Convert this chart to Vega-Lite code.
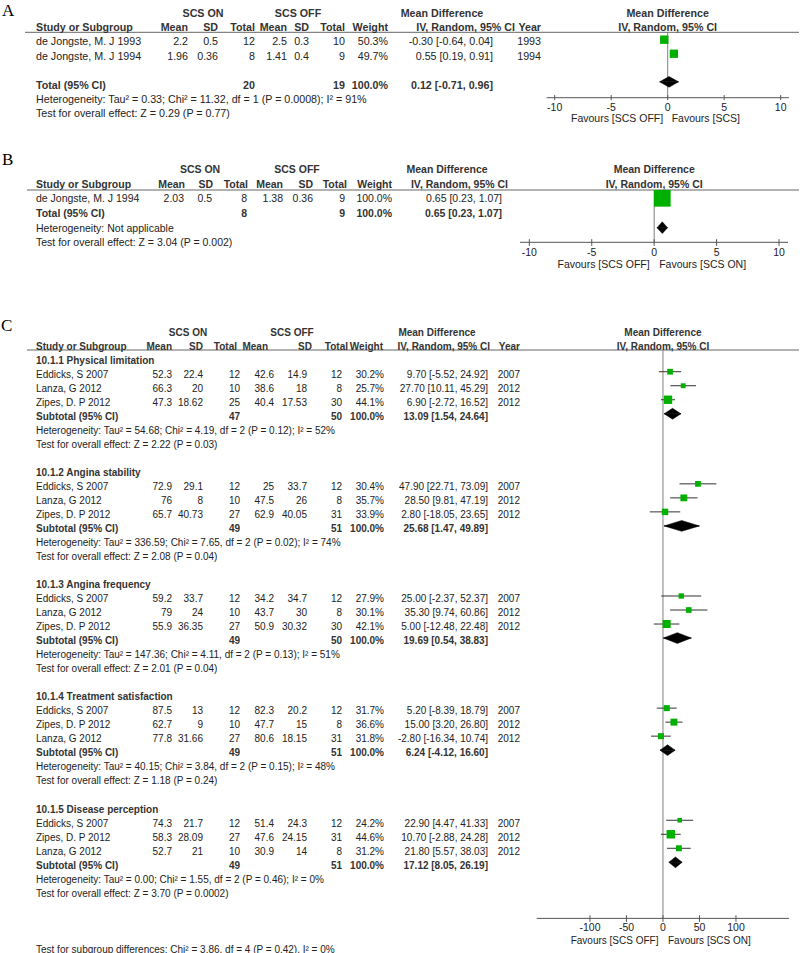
{
"$schema": "https://vega.github.io/schema/vega-lite/v6.json",
"padding": 0, "spacing": 0, "bounds": "flush", "background": "white",
"config": {"view": {"stroke": null}, "text": {"font": "Liberation Sans", "color": "#222"}},
"datasets": {
"cols": [{"key":"m1","c":1},{"key":"s1","c":2},{"key":"n1","c":3},{"key":"m2","c":4},{"key":"s2","c":5},{"key":"n2","c":6},{"key":"w","c":7},{"key":"ci","c":8},{"key":"yr","c":9},{"key":"on","c":10},{"key":"off","c":11},{"key":"md","c":12},{"key":"mh1","c":13},{"key":"sh1","c":14},{"key":"nh1","c":15},{"key":"mh2","c":16},{"key":"sh2","c":17},{"key":"nh2","c":18},{"key":"wh","c":19},{"key":"cih","c":20},{"key":"yrh","c":21}],
"dia": [{"k":"lo","up":0,"dn":0},{"k":"est","up":-1,"dn":1},{"k":"hi","up":0,"dn":0}],
"tA": [{"v":-10,"t":"-10"},{"v":-5,"t":"-5"},{"v":0,"t":"0"},{"v":5,"t":"5"},{"v":10,"t":"10"}],
"tC": [{"v":-100,"t":"-100"},{"v":-50,"t":"-50"},{"v":0,"t":"0"},{"v":50,"t":"50"},{"v":100,"t":"100"}],
"A": [
{"kind":"lab","label":"A","fl":"Favours [SCS OFF]","fr":"Favours [SCS]"},
{"kind":"h1","r":-2,"on":"SCS ON","off":"SCS OFF","md":"Mean Difference","fh":"Mean Difference"},
{"kind":"h2","r":-1,"label":"Study or Subgroup","mh1":"Mean","sh1":"SD","nh1":"Total","mh2":"Mean","sh2":"SD","nh2":"Total","wh":"Weight","cih":"IV, Random, 95% CI","yrh":"Year","fh":"IV, Random, 95% CI"},
{"kind":"study","r":0,"label":"de Jongste, M. J 1993","m1":"2.2","s1":"0.5","n1":"12","m2":"2.5","s2":"0.3","n2":"10","w":"50.3%","ci":"-0.30 [-0.64, 0.04]","yr":"1993","est":-0.30,"lo":-0.64,"hi":0.04,"wt":50.3},
{"kind":"study","r":1,"label":"de Jongste, M. J 1994","m1":"1.96","s1":"0.36","n1":"8","m2":"1.41","s2":"0.4","n2":"9","w":"49.7%","ci":"0.55 [0.19, 0.91]","yr":"1994","est":0.55,"lo":0.19,"hi":0.91,"wt":49.7},
{"kind":"sub","r":3,"label":"Total (95% CI)","n1":"20","n2":"19","w":"100.0%","ci":"0.12 [-0.71, 0.96]","est":0.12,"lo":-0.71,"hi":0.96},
{"kind":"het","r":4,"label":"Heterogeneity: Tau² = 0.33; Chi² = 11.32, df = 1 (P = 0.0008); I² = 91%"},
{"kind":"test","r":5,"label":"Test for overall effect: Z = 0.29 (P = 0.77)"}
],
"B": [
{"kind":"lab","label":"B","fl":"Favours [SCS OFF]","fr":"Favours [SCS ON]"},
{"kind":"h1","r":-2,"on":"SCS ON","off":"SCS OFF","md":"Mean Difference","fh":"Mean Difference"},
{"kind":"h2","r":-1,"label":"Study or Subgroup","mh1":"Mean","sh1":"SD","nh1":"Total","mh2":"Mean","sh2":"SD","nh2":"Total","wh":"Weight","cih":"IV, Random, 95% CI","fh":"IV, Random, 95% CI"},
{"kind":"study","r":0,"label":"de Jongste, M. J 1994","m1":"2.03","s1":"0.5","n1":"8","m2":"1.38","s2":"0.36","n2":"9","w":"100.0%","ci":"0.65 [0.23, 1.07]","est":0.65,"lo":0.23,"hi":1.07,"wt":100},
{"kind":"sub","r":1,"label":"Total (95% CI)","n1":"8","n2":"9","w":"100.0%","ci":"0.65 [0.23, 1.07]","est":0.65,"lo":0.23,"hi":1.07},
{"kind":"het","r":2,"label":"Heterogeneity: Not applicable"},
{"kind":"test","r":3,"label":"Test for overall effect: Z = 3.04 (P = 0.002)"}
],
"C": [
{"kind":"lab","label":"C","fl":"Favours [SCS OFF]","fr":"Favours [SCS ON]"},
{"kind":"h1","r":-2,"on":"SCS ON","off":"SCS OFF","md":"Mean Difference","fh":"Mean Difference"},
{"kind":"h2","r":-1,"label":"Study or Subgroup","mh1":"Mean","sh1":"SD","nh1":"Total","mh2":"Mean","sh2":"SD","nh2":"Total","wh":"Weight","cih":"IV, Random, 95% CI","yrh":"Year","fh":"IV, Random, 95% CI"},
{"kind":"group","r":0,"label":"10.1.1 Physical limitation"},
{"kind":"study","r":1,"label":"Eddicks, S 2007","m1":"52.3","s1":"22.4","n1":"12","m2":"42.6","s2":"14.9","n2":"12","w":"30.2%","ci":"9.70 [-5.52, 24.92]","yr":"2007","est":9.70,"lo":-5.52,"hi":24.92,"wt":30.2},
{"kind":"study","r":2,"label":"Lanza, G 2012","m1":"66.3","s1":"20","n1":"10","m2":"38.6","s2":"18","n2":"8","w":"25.7%","ci":"27.70 [10.11, 45.29]","yr":"2012","est":27.70,"lo":10.11,"hi":45.29,"wt":25.7},
{"kind":"study","r":3,"label":"Zipes, D. P 2012","m1":"47.3","s1":"18.62","n1":"25","m2":"40.4","s2":"17.53","n2":"30","w":"44.1%","ci":"6.90 [-2.72, 16.52]","yr":"2012","est":6.90,"lo":-2.72,"hi":16.52,"wt":44.1},
{"kind":"sub","r":4,"label":"Subtotal (95% CI)","n1":"47","n2":"50","w":"100.0%","ci":"13.09 [1.54, 24.64]","est":13.09,"lo":1.54,"hi":24.64},
{"kind":"het","r":5,"label":"Heterogeneity: Tau² = 54.68; Chi² = 4.19, df = 2 (P = 0.12); I² = 52%"},
{"kind":"test","r":6,"label":"Test for overall effect: Z = 2.22 (P = 0.03)"},
{"kind":"group","r":8,"label":"10.1.2 Angina stability"},
{"kind":"study","r":9,"label":"Eddicks, S 2007","m1":"72.9","s1":"29.1","n1":"12","m2":"25","s2":"33.7","n2":"12","w":"30.4%","ci":"47.90 [22.71, 73.09]","yr":"2007","est":47.90,"lo":22.71,"hi":73.09,"wt":30.4},
{"kind":"study","r":10,"label":"Lanza, G 2012","m1":"76","s1":"8","n1":"10","m2":"47.5","s2":"26","n2":"8","w":"35.7%","ci":"28.50 [9.81, 47.19]","yr":"2012","est":28.50,"lo":9.81,"hi":47.19,"wt":35.7},
{"kind":"study","r":11,"label":"Zipes, D. P 2012","m1":"65.7","s1":"40.73","n1":"27","m2":"62.9","s2":"40.05","n2":"31","w":"33.9%","ci":"2.80 [-18.05, 23.65]","yr":"2012","est":2.80,"lo":-18.05,"hi":23.65,"wt":33.9},
{"kind":"sub","r":12,"label":"Subtotal (95% CI)","n1":"49","n2":"51","w":"100.0%","ci":"25.68 [1.47, 49.89]","est":25.68,"lo":1.47,"hi":49.89},
{"kind":"het","r":13,"label":"Heterogeneity: Tau² = 336.59; Chi² = 7.65, df = 2 (P = 0.02); I² = 74%"},
{"kind":"test","r":14,"label":"Test for overall effect: Z = 2.08 (P = 0.04)"},
{"kind":"group","r":16,"label":"10.1.3 Angina frequency"},
{"kind":"study","r":17,"label":"Eddicks, S 2007","m1":"59.2","s1":"33.7","n1":"12","m2":"34.2","s2":"34.7","n2":"12","w":"27.9%","ci":"25.00 [-2.37, 52.37]","yr":"2007","est":25.00,"lo":-2.37,"hi":52.37,"wt":27.9},
{"kind":"study","r":18,"label":"Lanza, G 2012","m1":"79","s1":"24","n1":"10","m2":"43.7","s2":"30","n2":"8","w":"30.1%","ci":"35.30 [9.74, 60.86]","yr":"2012","est":35.30,"lo":9.74,"hi":60.86,"wt":30.1},
{"kind":"study","r":19,"label":"Zipes, D. P 2012","m1":"55.9","s1":"36.35","n1":"27","m2":"50.9","s2":"30.32","n2":"30","w":"42.1%","ci":"5.00 [-12.48, 22.48]","yr":"2012","est":5.00,"lo":-12.48,"hi":22.48,"wt":42.1},
{"kind":"sub","r":20,"label":"Subtotal (95% CI)","n1":"49","n2":"50","w":"100.0%","ci":"19.69 [0.54, 38.83]","est":19.69,"lo":0.54,"hi":38.83},
{"kind":"het","r":21,"label":"Heterogeneity: Tau² = 147.36; Chi² = 4.11, df = 2 (P = 0.13); I² = 51%"},
{"kind":"test","r":22,"label":"Test for overall effect: Z = 2.01 (P = 0.04)"},
{"kind":"group","r":24,"label":"10.1.4 Treatment satisfaction"},
{"kind":"study","r":25,"label":"Eddicks, S 2007","m1":"87.5","s1":"13","n1":"12","m2":"82.3","s2":"20.2","n2":"12","w":"31.7%","ci":"5.20 [-8.39, 18.79]","yr":"2007","est":5.20,"lo":-8.39,"hi":18.79,"wt":31.7},
{"kind":"study","r":26,"label":"Zipes, D. P 2012","m1":"62.7","s1":"9","n1":"10","m2":"47.7","s2":"15","n2":"8","w":"36.6%","ci":"15.00 [3.20, 26.80]","yr":"2012","est":15.00,"lo":3.20,"hi":26.80,"wt":36.6},
{"kind":"study","r":27,"label":"Lanza, G 2012","m1":"77.8","s1":"31.66","n1":"27","m2":"80.6","s2":"18.15","n2":"31","w":"31.8%","ci":"-2.80 [-16.34, 10.74]","yr":"2012","est":-2.80,"lo":-16.34,"hi":10.74,"wt":31.8},
{"kind":"sub","r":28,"label":"Subtotal (95% CI)","n1":"49","n2":"51","w":"100.0%","ci":"6.24 [-4.12, 16.60]","est":6.24,"lo":-4.12,"hi":16.60},
{"kind":"het","r":29,"label":"Heterogeneity: Tau² = 40.15; Chi² = 3.84, df = 2 (P = 0.15); I² = 48%"},
{"kind":"test","r":30,"label":"Test for overall effect: Z = 1.18 (P = 0.24)"},
{"kind":"group","r":32,"label":"10.1.5 Disease perception"},
{"kind":"study","r":33,"label":"Eddicks, S 2007","m1":"74.3","s1":"21.7","n1":"12","m2":"51.4","s2":"24.3","n2":"12","w":"24.2%","ci":"22.90 [4.47, 41.33]","yr":"2007","est":22.90,"lo":4.47,"hi":41.33,"wt":24.2},
{"kind":"study","r":34,"label":"Zipes, D. P 2012","m1":"58.3","s1":"28.09","n1":"27","m2":"47.6","s2":"24.15","n2":"31","w":"44.6%","ci":"10.70 [-2.88, 24.28]","yr":"2012","est":10.70,"lo":-2.88,"hi":24.28,"wt":44.6},
{"kind":"study","r":35,"label":"Lanza, G 2012","m1":"52.7","s1":"21","n1":"10","m2":"30.9","s2":"14","n2":"8","w":"31.2%","ci":"21.80 [5.57, 38.03]","yr":"2012","est":21.80,"lo":5.57,"hi":38.03,"wt":31.2},
{"kind":"sub","r":36,"label":"Subtotal (95% CI)","n1":"49","n2":"51","w":"100.0%","ci":"17.12 [8.05, 26.19]","est":17.12,"lo":8.05,"hi":26.19},
{"kind":"het","r":37,"label":"Heterogeneity: Tau² = 0.00; Chi² = 1.55, df = 2 (P = 0.46); I² = 0%"},
{"kind":"test","r":38,"label":"Test for overall effect: Z = 3.70 (P = 0.0002)"},
{"kind":"test","r":42,"label":"Test for subgroup differences: Chi² = 3.86, df = 4 (P = 0.42), I² = 0%"}
]
},
"vconcat": [
{"width": 800, "height": 135,
 "resolve": {"scale": {"x": "independent", "y": "independent", "size": "independent", "yOffset": "independent"}},
 "layer": [
  {"data":{"name":"A"},"transform":[{"filter":"datum.kind==='lab'"}],"mark":{"type":"text","font":"Liberation Serif","fontSize":17,"align":"left","baseline":"middle","color":"#000"},
   "encoding":{"x":{"datum":-2,"type":"quantitative","scale":{"domain":[-2,-1,0,1,2,3,4,5,6,7,8,9,10,11,12,13,14,15,16,17,18,19,20,21,22],"range":[2,25,36,188,218,255,287,309,345,388,493,541,203,298,442,188,218,255,287,309,345,388,515,541,799],"nice":false,"zero":false},"axis":null},
   "y":{"datum":-2.17,"type":"quantitative","scale":{"domain":[-2.9375,6.4375],"reverse":true,"nice":false,"zero":false},"axis":null},"text":{"field":"label"}}},
  {"data":{"name":"A"},"transform":[{"filter":"datum.kind==='lab'"}],"mark":{"type":"rule","color":"#666","strokeWidth":1},
   "encoding":{"x":{"datum":-1,"type":"quantitative","scale":{"domain":[-2,-1,0,1,2,3,4,5,6,7,8,9,10,11,12,13,14,15,16,17,18,19,20,21,22],"range":[2,25,36,188,218,255,287,309,345,388,493,541,203,298,442,188,218,255,287,309,345,388,515,541,799],"nice":false,"zero":false},"axis":null},"x2":{"datum":22},
   "y":{"datum":-0.694,"type":"quantitative","scale":{"domain":[-2.9375,6.4375],"reverse":true,"nice":false,"zero":false},"axis":null}}},
  {"data":{"name":"A"},"transform":[{"filter":"datum.kind==='lab'"}],"mark":{"type":"rule","color":"#808080","strokeWidth":1},
   "encoding":{"x":{"datum":0,"type":"quantitative","scale":{"domain":[-59.09,11.71],"nice":false,"zero":false},"axis":null},
   "y":{"datum":-0.527,"type":"quantitative","scale":{"domain":[-2.826,6.783],"reverse":true,"nice":false,"zero":false},"axis":null},"y2":{"datum":4.128}}},
  {"data":{"name":"A"},"transform":[{"filter":"datum.kind==='lab'"}],"mark":{"type":"rule","color":"#555","strokeWidth":1},
   "encoding":{"x":{"datum":-10.71,"type":"quantitative","scale":{"domain":[-59.09,11.71],"nice":false,"zero":false},"axis":null},"x2":{"datum":10.73},
   "y":{"datum":4.128,"type":"quantitative","scale":{"domain":[-2.826,6.783],"reverse":true,"nice":false,"zero":false},"axis":null}}},
  {"data":{"name":"tA"},"mark":{"type":"rule","color":"#555","strokeWidth":1},
   "encoding":{"x":{"field":"v","type":"quantitative","scale":{"domain":[-59.09,11.71],"nice":false,"zero":false},"axis":null},
   "y":{"datum":3.94,"type":"quantitative","scale":{"domain":[-2.826,6.783],"reverse":true,"nice":false,"zero":false},"axis":null},"y2":{"datum":4.30}}},
  {"data":{"name":"tA"},"mark":{"type":"text","fontSize":10.5,"align":"center","baseline":"middle"},
   "encoding":{"x":{"field":"v","type":"quantitative","scale":{"domain":[-59.09,11.71],"nice":false,"zero":false},"axis":null},
   "y":{"datum":4.85,"type":"quantitative","scale":{"domain":[-2.826,6.783],"reverse":true,"nice":false,"zero":false},"axis":null},"text":{"field":"t"}}},
  {"data":{"name":"A"},"transform":[{"filter":"datum.kind==='lab'"}],"mark":{"type":"text","fontSize":10.5,"align":"right","baseline":"middle","dx":-4.5},
   "encoding":{"x":{"datum":0,"type":"quantitative","scale":{"domain":[-59.09,11.71],"nice":false,"zero":false},"axis":null},
   "y":{"datum":5.63,"type":"quantitative","scale":{"domain":[-2.826,6.783],"reverse":true,"nice":false,"zero":false},"axis":null},"text":{"field":"fl"}}},
  {"data":{"name":"A"},"transform":[{"filter":"datum.kind==='lab'"}],"mark":{"type":"text","fontSize":10.5,"align":"left","baseline":"middle","dx":4},
   "encoding":{"x":{"datum":0,"type":"quantitative","scale":{"domain":[-59.09,11.71],"nice":false,"zero":false},"axis":null},
   "y":{"datum":5.63,"type":"quantitative","scale":{"domain":[-2.826,6.783],"reverse":true,"nice":false,"zero":false},"axis":null},"text":{"field":"fr"}}},
  {"data":{"name":"A"},"transform":[{"filter":"datum.kind==='study'"}],"mark":{"type":"rule","color":"#333","strokeWidth":1},
   "encoding":{"x":{"field":"lo","type":"quantitative","scale":{"domain":[-59.09,11.71],"nice":false,"zero":false},"axis":null},"x2":{"field":"hi"},
   "y":{"field":"r","type":"quantitative","scale":{"domain":[-2.826,6.783],"reverse":true,"nice":false,"zero":false},"axis":null}}},
  {"data":{"name":"A"},"transform":[{"filter":"datum.kind==='study'"}],"mark":{"type":"point","shape":"square","filled":true,"color":"#00b000","opacity":1},
   "encoding":{"x":{"field":"est","type":"quantitative","scale":{"domain":[-59.09,11.71],"nice":false,"zero":false},"axis":null},
   "y":{"field":"r","type":"quantitative","scale":{"domain":[-2.826,6.783],"reverse":true,"nice":false,"zero":false},"axis":null},
   "size":{"field":"wt","type":"quantitative","scale":{"type":"pow","exponent":2,"domain":[0,100],"range":[0,279]},"legend":null}}},
  {"data":{"name":"A"},"transform":[{"filter":"datum.kind==='sub'"},{"fold":["lo","est","hi"],"as":["k","v"]},{"lookup":"k","from":{"data":{"name":"dia"},"key":"k","fields":["up","dn"]}}],
   "mark":{"type":"line","fill":"#000","stroke":"#000","strokeWidth":0.5,"interpolate":"linear-closed"},
   "encoding":{"x":{"field":"v","type":"quantitative","scale":{"domain":[-59.09,11.71],"nice":false,"zero":false},"axis":null},
   "y":{"field":"r","type":"ordinal","scale":{"type":"point","domain":[3],"range":[81.85,81.85],"padding":0},"axis":null},
   "yOffset":{"field":"up","type":"quantitative","scale":{"domain":[-1,1],"range":[-5.35,5.35]}},
   "order":{"field":"v"},"detail":{"field":"r"}}},
  {"data":{"name":"A"},"transform":[{"filter":"datum.kind==='sub'"},{"fold":["lo","est","hi"],"as":["k","v"]},{"lookup":"k","from":{"data":{"name":"dia"},"key":"k","fields":["up","dn"]}}],
   "mark":{"type":"line","fill":"#000","stroke":"#000","strokeWidth":0.5,"interpolate":"linear-closed"},
   "encoding":{"x":{"field":"v","type":"quantitative","scale":{"domain":[-59.09,11.71],"nice":false,"zero":false},"axis":null},
   "y":{"field":"r","type":"ordinal","scale":{"type":"point","domain":[3],"range":[81.85,81.85],"padding":0},"axis":null},
   "yOffset":{"field":"dn","type":"quantitative","scale":{"domain":[-1,1],"range":[-5.35,5.35]}},
   "order":{"field":"v"},"detail":{"field":"r"}}},
  {"data":{"name":"A"},"transform":[{"filter":"isValid(datum.fh)"}],"mark":{"type":"text","fontSize":10.7,"fontWeight":"bold","align":"center","baseline":"middle","color":"#333"},
   "encoding":{"x":{"datum":0,"type":"quantitative","scale":{"domain":[-59.09,11.71],"nice":false,"zero":false},"axis":null},
   "y":{"field":"r","type":"quantitative","scale":{"domain":[-2.9375,6.4375],"reverse":true,"nice":false,"zero":false},"axis":null},"text":{"field":"fh"}}},
  {"data":{"name":"A"},"transform":[{"filter":"datum.kind==='h1'"},{"fold":["on","off","md"],"as":["key","value"]},{"lookup":"key","from":{"data":{"name":"cols"},"key":"key","fields":["c"]}}],
   "mark":{"type":"text","fontSize":10.7,"fontWeight":"bold","align":"center","baseline":"middle","color":"#333"},
   "encoding":{"x":{"field":"c","type":"quantitative","scale":{"domain":[-2,-1,0,1,2,3,4,5,6,7,8,9,10,11,12,13,14,15,16,17,18,19,20,21,22],"range":[2,25,36,188,218,255,287,309,345,388,493,541,203,298,442,188,218,255,287,309,345,388,515,541,799],"nice":false,"zero":false},"axis":null},
   "y":{"field":"r","type":"quantitative","scale":{"domain":[-2.9375,6.4375],"reverse":true,"nice":false,"zero":false},"axis":null},"text":{"field":"value"}}},
  {"data":{"name":"A"},"transform":[{"filter":"indexof(['group','sub','h2'], datum.kind) >= 0"}],"mark":{"type":"text","fontSize":10.7,"fontWeight":"bold","align":"left","baseline":"middle","color":"#333"},
   "encoding":{"x":{"datum":0,"type":"quantitative","scale":{"domain":[-2,-1,0,1,2,3,4,5,6,7,8,9,10,11,12,13,14,15,16,17,18,19,20,21,22],"range":[2,25,36,188,218,255,287,309,345,388,493,541,203,298,442,188,218,255,287,309,345,388,515,541,799],"nice":false,"zero":false},"axis":null},
   "y":{"field":"r","type":"quantitative","scale":{"domain":[-2.9375,6.4375],"reverse":true,"nice":false,"zero":false},"axis":null},"text":{"field":"label"}}},
  {"data":{"name":"A"},"transform":[{"filter":"indexof(['study','het','test'], datum.kind) >= 0"}],"mark":{"type":"text","fontSize":10.7,"align":"left","baseline":"middle"},
   "encoding":{"x":{"datum":0,"type":"quantitative","scale":{"domain":[-2,-1,0,1,2,3,4,5,6,7,8,9,10,11,12,13,14,15,16,17,18,19,20,21,22],"range":[2,25,36,188,218,255,287,309,345,388,493,541,203,298,442,188,218,255,287,309,345,388,515,541,799],"nice":false,"zero":false},"axis":null},
   "y":{"field":"r","type":"quantitative","scale":{"domain":[-2.9375,6.4375],"reverse":true,"nice":false,"zero":false},"axis":null},"text":{"field":"label"}}},
  {"data":{"name":"A"},"transform":[{"filter":"datum.kind==='study'"},{"fold":["m1","s1","n1","m2","s2","n2","w","ci","yr"],"as":["key","value"]},{"filter":"isValid(datum.value)"},{"lookup":"key","from":{"data":{"name":"cols"},"key":"key","fields":["c"]}}],
   "mark":{"type":"text","fontSize":10.7,"align":"right","baseline":"middle"},
   "encoding":{"x":{"field":"c","type":"quantitative","scale":{"domain":[-2,-1,0,1,2,3,4,5,6,7,8,9,10,11,12,13,14,15,16,17,18,19,20,21,22],"range":[2,25,36,188,218,255,287,309,345,388,493,541,203,298,442,188,218,255,287,309,345,388,515,541,799],"nice":false,"zero":false},"axis":null},
   "y":{"field":"r","type":"quantitative","scale":{"domain":[-2.9375,6.4375],"reverse":true,"nice":false,"zero":false},"axis":null},"text":{"field":"value"}}},
  {"data":{"name":"A"},"transform":[{"filter":"datum.kind==='sub' || datum.kind==='h2'"},{"fold":["m1","s1","n1","m2","s2","n2","w","ci","yr","mh1","sh1","nh1","mh2","sh2","nh2","wh","cih","yrh"],"as":["key","value"]},{"filter":"isValid(datum.value)"},{"lookup":"key","from":{"data":{"name":"cols"},"key":"key","fields":["c"]}}],
   "mark":{"type":"text","fontSize":10.7,"fontWeight":"bold","align":"right","baseline":"middle","color":"#333"},
   "encoding":{"x":{"field":"c","type":"quantitative","scale":{"domain":[-2,-1,0,1,2,3,4,5,6,7,8,9,10,11,12,13,14,15,16,17,18,19,20,21,22],"range":[2,25,36,188,218,255,287,309,345,388,493,541,203,298,442,188,218,255,287,309,345,388,515,541,799],"nice":false,"zero":false},"axis":null},
   "y":{"field":"r","type":"quantitative","scale":{"domain":[-2.9375,6.4375],"reverse":true,"nice":false,"zero":false},"axis":null},"text":{"field":"value"}}}
 ]},
{"width": 800, "height": 165,
 "resolve": {"scale": {"x": "independent", "y": "independent", "size": "independent", "yOffset": "independent"}},
 "layer": [
  {"data":{"name":"B"},"transform":[{"filter":"datum.kind==='lab'"}],"mark":{"type":"text","font":"Liberation Serif","fontSize":17,"align":"left","baseline":"middle","color":"#000"},
   "encoding":{"x":{"datum":-2,"type":"quantitative","scale":{"domain":[-2,-1,0,1,2,3,4,5,6,7,8,9,10,11,12,13,14,15,16,17,18,19,20,21,22],"range":[2,27,36,184,212,247,283,313,345,392,502,541,200,297,447,185,213,248,283,313,347,392,508,541,799],"nice":false,"zero":false},"axis":null},
   "y":{"datum":-2.66,"type":"quantitative","scale":{"domain":[-4.386,6.869],"reverse":true,"nice":false,"zero":false},"axis":null},"text":{"field":"label"}}},
  {"data":{"name":"B"},"transform":[{"filter":"datum.kind==='lab'"}],"mark":{"type":"rule","color":"#666","strokeWidth":1},
   "encoding":{"x":{"datum":-1,"type":"quantitative","scale":{"domain":[-2,-1,0,1,2,3,4,5,6,7,8,9,10,11,12,13,14,15,16,17,18,19,20,21,22],"range":[2,27,36,184,212,247,283,313,345,392,502,541,200,297,447,185,213,248,283,313,347,392,508,541,799],"nice":false,"zero":false},"axis":null},"x2":{"datum":22},
   "y":{"datum":-0.634,"type":"quantitative","scale":{"domain":[-4.386,6.869],"reverse":true,"nice":false,"zero":false},"axis":null}}},
  {"data":{"name":"B"},"transform":[{"filter":"datum.kind==='lab'"}],"mark":{"type":"rule","color":"#808080","strokeWidth":1},
   "encoding":{"x":{"datum":0,"type":"quantitative","scale":{"domain":[-52.40,11.68],"nice":false,"zero":false},"axis":null},
   "y":{"datum":-0.282,"type":"quantitative","scale":{"domain":[-2.153,3.459],"reverse":true,"nice":false,"zero":false},"axis":null},"y2":{"datum":1.497}}},
  {"data":{"name":"B"},"transform":[{"filter":"datum.kind==='lab'"}],"mark":{"type":"rule","color":"#555","strokeWidth":1},
   "encoding":{"x":{"datum":-10.75,"type":"quantitative","scale":{"domain":[-52.40,11.68],"nice":false,"zero":false},"axis":null},"x2":{"datum":10.72},
   "y":{"datum":1.497,"type":"quantitative","scale":{"domain":[-2.153,3.459],"reverse":true,"nice":false,"zero":false},"axis":null}}},
  {"data":{"name":"tA"},"mark":{"type":"rule","color":"#555","strokeWidth":1},
   "encoding":{"x":{"field":"v","type":"quantitative","scale":{"domain":[-52.40,11.68],"nice":false,"zero":false},"axis":null},
   "y":{"datum":1.39,"type":"quantitative","scale":{"domain":[-2.153,3.459],"reverse":true,"nice":false,"zero":false},"axis":null},"y2":{"datum":1.62}}},
  {"data":{"name":"tA"},"mark":{"type":"text","fontSize":10.5,"align":"center","baseline":"middle"},
   "encoding":{"x":{"field":"v","type":"quantitative","scale":{"domain":[-52.40,11.68],"nice":false,"zero":false},"axis":null},
   "y":{"datum":1.871,"type":"quantitative","scale":{"domain":[-2.153,3.459],"reverse":true,"nice":false,"zero":false},"axis":null},"text":{"field":"t"}}},
  {"data":{"name":"B"},"transform":[{"filter":"datum.kind==='lab'"}],"mark":{"type":"text","fontSize":10.5,"align":"right","baseline":"middle","dx":-4.5},
   "encoding":{"x":{"datum":0,"type":"quantitative","scale":{"domain":[-52.40,11.68],"nice":false,"zero":false},"axis":null},
   "y":{"datum":2.27,"type":"quantitative","scale":{"domain":[-2.153,3.459],"reverse":true,"nice":false,"zero":false},"axis":null},"text":{"field":"fl"}}},
  {"data":{"name":"B"},"transform":[{"filter":"datum.kind==='lab'"}],"mark":{"type":"text","fontSize":10.5,"align":"left","baseline":"middle","dx":5},
   "encoding":{"x":{"datum":0,"type":"quantitative","scale":{"domain":[-52.40,11.68],"nice":false,"zero":false},"axis":null},
   "y":{"datum":2.27,"type":"quantitative","scale":{"domain":[-2.153,3.459],"reverse":true,"nice":false,"zero":false},"axis":null},"text":{"field":"fr"}}},
  {"data":{"name":"B"},"transform":[{"filter":"datum.kind==='study'"}],"mark":{"type":"rule","color":"#333","strokeWidth":1},
   "encoding":{"x":{"field":"lo","type":"quantitative","scale":{"domain":[-52.40,11.68],"nice":false,"zero":false},"axis":null},"x2":{"field":"hi"},
   "y":{"field":"r","type":"quantitative","scale":{"domain":[-2.153,3.459],"reverse":true,"nice":false,"zero":false},"axis":null}}},
  {"data":{"name":"B"},"transform":[{"filter":"datum.kind==='study'"}],"mark":{"type":"point","shape":"square","filled":true,"color":"#00b000","opacity":1},
   "encoding":{"x":{"field":"est","type":"quantitative","scale":{"domain":[-52.40,11.68],"nice":false,"zero":false},"axis":null},
   "y":{"field":"r","type":"quantitative","scale":{"domain":[-2.153,3.459],"reverse":true,"nice":false,"zero":false},"axis":null},
   "size":{"field":"wt","type":"quantitative","scale":{"type":"pow","exponent":2,"domain":[0,100],"range":[0,279]},"legend":null}}},
  {"data":{"name":"B"},"transform":[{"filter":"datum.kind==='sub'"},{"fold":["lo","est","hi"],"as":["k","v"]},{"lookup":"k","from":{"data":{"name":"dia"},"key":"k","fields":["up","dn"]}}],
   "mark":{"type":"line","fill":"#000","stroke":"#000","strokeWidth":0.5,"interpolate":"linear-closed"},
   "encoding":{"x":{"field":"v","type":"quantitative","scale":{"domain":[-52.40,11.68],"nice":false,"zero":false},"axis":null},
   "y":{"field":"r","type":"ordinal","scale":{"type":"point","domain":[1],"range":[92.7,92.7],"padding":0},"axis":null},
   "yOffset":{"field":"up","type":"quantitative","scale":{"domain":[-1,1],"range":[-5.85,5.85]}},
   "order":{"field":"v"},"detail":{"field":"r"}}},
  {"data":{"name":"B"},"transform":[{"filter":"datum.kind==='sub'"},{"fold":["lo","est","hi"],"as":["k","v"]},{"lookup":"k","from":{"data":{"name":"dia"},"key":"k","fields":["up","dn"]}}],
   "mark":{"type":"line","fill":"#000","stroke":"#000","strokeWidth":0.5,"interpolate":"linear-closed"},
   "encoding":{"x":{"field":"v","type":"quantitative","scale":{"domain":[-52.40,11.68],"nice":false,"zero":false},"axis":null},
   "y":{"field":"r","type":"ordinal","scale":{"type":"point","domain":[1],"range":[92.7,92.7],"padding":0},"axis":null},
   "yOffset":{"field":"dn","type":"quantitative","scale":{"domain":[-1,1],"range":[-5.85,5.85]}},
   "order":{"field":"v"},"detail":{"field":"r"}}},
  {"data":{"name":"B"},"transform":[{"filter":"isValid(datum.fh)"}],"mark":{"type":"text","fontSize":10.5,"fontWeight":"bold","align":"center","baseline":"middle","color":"#333"},
   "encoding":{"x":{"datum":0,"type":"quantitative","scale":{"domain":[-52.40,11.68],"nice":false,"zero":false},"axis":null},
   "y":{"field":"r","type":"quantitative","scale":{"domain":[-4.386,6.869],"reverse":true,"nice":false,"zero":false},"axis":null},"text":{"field":"fh"}}},
  {"data":{"name":"B"},"transform":[{"filter":"datum.kind==='h1'"},{"fold":["on","off","md"],"as":["key","value"]},{"lookup":"key","from":{"data":{"name":"cols"},"key":"key","fields":["c"]}}],
   "mark":{"type":"text","fontSize":10.5,"fontWeight":"bold","align":"center","baseline":"middle","color":"#333"},
   "encoding":{"x":{"field":"c","type":"quantitative","scale":{"domain":[-2,-1,0,1,2,3,4,5,6,7,8,9,10,11,12,13,14,15,16,17,18,19,20,21,22],"range":[2,27,36,184,212,247,283,313,345,392,502,541,200,297,447,185,213,248,283,313,347,392,508,541,799],"nice":false,"zero":false},"axis":null},
   "y":{"field":"r","type":"quantitative","scale":{"domain":[-4.386,6.869],"reverse":true,"nice":false,"zero":false},"axis":null},"text":{"field":"value"}}},
  {"data":{"name":"B"},"transform":[{"filter":"indexof(['group','sub','h2'], datum.kind) >= 0"}],"mark":{"type":"text","fontSize":10.5,"fontWeight":"bold","align":"left","baseline":"middle","color":"#333"},
   "encoding":{"x":{"datum":0,"type":"quantitative","scale":{"domain":[-2,-1,0,1,2,3,4,5,6,7,8,9,10,11,12,13,14,15,16,17,18,19,20,21,22],"range":[2,27,36,184,212,247,283,313,345,392,502,541,200,297,447,185,213,248,283,313,347,392,508,541,799],"nice":false,"zero":false},"axis":null},
   "y":{"field":"r","type":"quantitative","scale":{"domain":[-4.386,6.869],"reverse":true,"nice":false,"zero":false},"axis":null},"text":{"field":"label"}}},
  {"data":{"name":"B"},"transform":[{"filter":"indexof(['study','het','test'], datum.kind) >= 0"}],"mark":{"type":"text","fontSize":10.5,"align":"left","baseline":"middle"},
   "encoding":{"x":{"datum":0,"type":"quantitative","scale":{"domain":[-2,-1,0,1,2,3,4,5,6,7,8,9,10,11,12,13,14,15,16,17,18,19,20,21,22],"range":[2,27,36,184,212,247,283,313,345,392,502,541,200,297,447,185,213,248,283,313,347,392,508,541,799],"nice":false,"zero":false},"axis":null},
   "y":{"field":"r","type":"quantitative","scale":{"domain":[-4.386,6.869],"reverse":true,"nice":false,"zero":false},"axis":null},"text":{"field":"label"}}},
  {"data":{"name":"B"},"transform":[{"filter":"datum.kind==='study'"},{"fold":["m1","s1","n1","m2","s2","n2","w","ci","yr"],"as":["key","value"]},{"filter":"isValid(datum.value)"},{"lookup":"key","from":{"data":{"name":"cols"},"key":"key","fields":["c"]}}],
   "mark":{"type":"text","fontSize":10.5,"align":"right","baseline":"middle"},
   "encoding":{"x":{"field":"c","type":"quantitative","scale":{"domain":[-2,-1,0,1,2,3,4,5,6,7,8,9,10,11,12,13,14,15,16,17,18,19,20,21,22],"range":[2,27,36,184,212,247,283,313,345,392,502,541,200,297,447,185,213,248,283,313,347,392,508,541,799],"nice":false,"zero":false},"axis":null},
   "y":{"field":"r","type":"quantitative","scale":{"domain":[-4.386,6.869],"reverse":true,"nice":false,"zero":false},"axis":null},"text":{"field":"value"}}},
  {"data":{"name":"B"},"transform":[{"filter":"datum.kind==='sub' || datum.kind==='h2'"},{"fold":["m1","s1","n1","m2","s2","n2","w","ci","yr","mh1","sh1","nh1","mh2","sh2","nh2","wh","cih","yrh"],"as":["key","value"]},{"filter":"isValid(datum.value)"},{"lookup":"key","from":{"data":{"name":"cols"},"key":"key","fields":["c"]}}],
   "mark":{"type":"text","fontSize":10.5,"fontWeight":"bold","align":"right","baseline":"middle","color":"#333"},
   "encoding":{"x":{"field":"c","type":"quantitative","scale":{"domain":[-2,-1,0,1,2,3,4,5,6,7,8,9,10,11,12,13,14,15,16,17,18,19,20,21,22],"range":[2,27,36,184,212,247,283,313,345,392,502,541,200,297,447,185,213,248,283,313,347,392,508,541,799],"nice":false,"zero":false},"axis":null},
   "y":{"field":"r","type":"quantitative","scale":{"domain":[-4.386,6.869],"reverse":true,"nice":false,"zero":false},"axis":null},"text":{"field":"value"}}}
 ]},
{"width": 800, "height": 653,
 "resolve": {"scale": {"x": "independent", "y": "independent", "size": "independent", "yOffset": "independent"}},
 "layer": [
  {"data":{"name":"C"},"transform":[{"filter":"datum.kind==='lab'"}],"mark":{"type":"text","font":"Liberation Serif","fontSize":17,"align":"left","baseline":"middle","color":"#000"},
   "encoding":{"x":{"datum":-2,"type":"quantitative","scale":{"domain":[-2,-1,0,1,2,3,4,5,6,7,8,9,10,11,12,13,14,15,16,17,18,19,20,21,22],"range":[1,27,36,172,203,240,274,307,342,384,488,520,188,292,437,172,203,237,268,312,348,383,490,520,799],"nice":false,"zero":false},"axis":null},
   "y":{"datum":-2.49,"type":"quantitative","scale":{"domain":[-4.328,42.229],"reverse":true,"nice":false,"zero":false},"axis":null},"text":{"field":"label"}}},
  {"data":{"name":"C"},"transform":[{"filter":"datum.kind==='lab'"}],"mark":{"type":"rule","color":"#666","strokeWidth":1},
   "encoding":{"x":{"datum":-1,"type":"quantitative","scale":{"domain":[-2,-1,0,1,2,3,4,5,6,7,8,9,10,11,12,13,14,15,16,17,18,19,20,21,22],"range":[1,27,36,172,203,240,274,307,342,384,488,520,188,292,437,172,203,237,268,312,348,383,490,520,799],"nice":false,"zero":false},"axis":null},"x2":{"datum":22},
   "y":{"datum":-0.763,"type":"quantitative","scale":{"domain":[-4.328,42.229],"reverse":true,"nice":false,"zero":false},"axis":null}}},
  {"data":{"name":"C"},"transform":[{"filter":"datum.kind==='lab'"}],"mark":{"type":"rule","color":"#808080","strokeWidth":1},
   "encoding":{"x":{"datum":0,"type":"quantitative","scale":{"domain":[-908.2,187.7],"nice":false,"zero":false},"axis":null},
   "y":{"datum":-0.549,"type":"quantitative","scale":{"domain":[-4.116,42.47],"reverse":true,"nice":false,"zero":false},"axis":null},"y2":{"datum":40.0}}},
  {"data":{"name":"C"},"transform":[{"filter":"datum.kind==='lab'"}],"mark":{"type":"rule","color":"#555","strokeWidth":1},
   "encoding":{"x":{"datum":-173,"type":"quantitative","scale":{"domain":[-908.2,187.7],"nice":false,"zero":false},"axis":null},"x2":{"datum":172.6},
   "y":{"datum":40.0,"type":"quantitative","scale":{"domain":[-4.116,42.47],"reverse":true,"nice":false,"zero":false},"axis":null}}},
  {"data":{"name":"tC"},"mark":{"type":"rule","color":"#555","strokeWidth":1},
   "encoding":{"x":{"field":"v","type":"quantitative","scale":{"domain":[-908.2,187.7],"nice":false,"zero":false},"axis":null},
   "y":{"datum":39.78,"type":"quantitative","scale":{"domain":[-4.116,42.47],"reverse":true,"nice":false,"zero":false},"axis":null},"y2":{"datum":40.25}}},
  {"data":{"name":"tC"},"mark":{"type":"text","fontSize":10.5,"align":"center","baseline":"middle"},
   "encoding":{"x":{"field":"v","type":"quantitative","scale":{"domain":[-908.2,187.7],"nice":false,"zero":false},"axis":null},
   "y":{"datum":40.69,"type":"quantitative","scale":{"domain":[-4.116,42.47],"reverse":true,"nice":false,"zero":false},"axis":null},"text":{"field":"t"}}},
  {"data":{"name":"C"},"transform":[{"filter":"datum.kind==='lab'"}],"mark":{"type":"text","fontSize":10,"align":"right","baseline":"middle","dx":-4.5},
   "encoding":{"x":{"datum":0,"type":"quantitative","scale":{"domain":[-908.2,187.7],"nice":false,"zero":false},"axis":null},
   "y":{"datum":41.59,"type":"quantitative","scale":{"domain":[-4.116,42.47],"reverse":true,"nice":false,"zero":false},"axis":null},"text":{"field":"fl"}}},
  {"data":{"name":"C"},"transform":[{"filter":"datum.kind==='lab'"}],"mark":{"type":"text","fontSize":10,"align":"left","baseline":"middle","dx":5},
   "encoding":{"x":{"datum":0,"type":"quantitative","scale":{"domain":[-908.2,187.7],"nice":false,"zero":false},"axis":null},
   "y":{"datum":41.59,"type":"quantitative","scale":{"domain":[-4.116,42.47],"reverse":true,"nice":false,"zero":false},"axis":null},"text":{"field":"fr"}}},
  {"data":{"name":"C"},"transform":[{"filter":"datum.kind==='study'"}],"mark":{"type":"rule","color":"#333","strokeWidth":1},
   "encoding":{"x":{"field":"lo","type":"quantitative","scale":{"domain":[-908.2,187.7],"nice":false,"zero":false},"axis":null},"x2":{"field":"hi"},
   "y":{"field":"r","type":"quantitative","scale":{"domain":[-4.116,42.47],"reverse":true,"nice":false,"zero":false},"axis":null}}},
  {"data":{"name":"C"},"transform":[{"filter":"datum.kind==='study'"}],"mark":{"type":"point","shape":"square","filled":true,"color":"#00b000","opacity":1},
   "encoding":{"x":{"field":"est","type":"quantitative","scale":{"domain":[-908.2,187.7],"nice":false,"zero":false},"axis":null},
   "y":{"field":"r","type":"quantitative","scale":{"domain":[-4.116,42.47],"reverse":true,"nice":false,"zero":false},"axis":null},
   "size":{"field":"wt","type":"quantitative","scale":{"type":"pow","exponent":2,"domain":[0,100],"range":[0,361]},"legend":null}}},
  {"data":{"name":"C"},"transform":[{"filter":"datum.kind==='sub'"},{"fold":["lo","est","hi"],"as":["k","v"]},{"lookup":"k","from":{"data":{"name":"dia"},"key":"k","fields":["up","dn"]}}],
   "mark":{"type":"line","fill":"#000","stroke":"#000","strokeWidth":0.5,"interpolate":"linear-closed"},
   "encoding":{"x":{"field":"v","type":"quantitative","scale":{"domain":[-908.2,187.7],"nice":false,"zero":false},"axis":null},
   "y":{"field":"r","type":"ordinal","scale":{"type":"point","domain":[4,12,20,28,36],"range":[113.77,562.31],"padding":0},"axis":null},
   "yOffset":{"field":"up","type":"quantitative","scale":{"domain":[-1,1],"range":[-5.4,5.4]}},
   "order":{"field":"v"},"detail":{"field":"r"}}},
  {"data":{"name":"C"},"transform":[{"filter":"datum.kind==='sub'"},{"fold":["lo","est","hi"],"as":["k","v"]},{"lookup":"k","from":{"data":{"name":"dia"},"key":"k","fields":["up","dn"]}}],
   "mark":{"type":"line","fill":"#000","stroke":"#000","strokeWidth":0.5,"interpolate":"linear-closed"},
   "encoding":{"x":{"field":"v","type":"quantitative","scale":{"domain":[-908.2,187.7],"nice":false,"zero":false},"axis":null},
   "y":{"field":"r","type":"ordinal","scale":{"type":"point","domain":[4,12,20,28,36],"range":[113.77,562.31],"padding":0},"axis":null},
   "yOffset":{"field":"dn","type":"quantitative","scale":{"domain":[-1,1],"range":[-5.4,5.4]}},
   "order":{"field":"v"},"detail":{"field":"r"}}},
  {"data":{"name":"C"},"transform":[{"filter":"isValid(datum.fh)"}],"mark":{"type":"text","fontSize":10,"fontWeight":"bold","align":"center","baseline":"middle","color":"#333"},
   "encoding":{"x":{"datum":0,"type":"quantitative","scale":{"domain":[-908.2,187.7],"nice":false,"zero":false},"axis":null},
   "y":{"field":"r","type":"quantitative","scale":{"domain":[-4.328,42.229],"reverse":true,"nice":false,"zero":false},"axis":null},"text":{"field":"fh"}}},
  {"data":{"name":"C"},"transform":[{"filter":"datum.kind==='h1'"},{"fold":["on","off","md"],"as":["key","value"]},{"lookup":"key","from":{"data":{"name":"cols"},"key":"key","fields":["c"]}}],
   "mark":{"type":"text","fontSize":10,"fontWeight":"bold","align":"center","baseline":"middle","color":"#333"},
   "encoding":{"x":{"field":"c","type":"quantitative","scale":{"domain":[-2,-1,0,1,2,3,4,5,6,7,8,9,10,11,12,13,14,15,16,17,18,19,20,21,22],"range":[1,27,36,172,203,240,274,307,342,384,488,520,188,292,437,172,203,237,268,312,348,383,490,520,799],"nice":false,"zero":false},"axis":null},
   "y":{"field":"r","type":"quantitative","scale":{"domain":[-4.328,42.229],"reverse":true,"nice":false,"zero":false},"axis":null},"text":{"field":"value"}}},
  {"data":{"name":"C"},"transform":[{"filter":"indexof(['group','sub','h2'], datum.kind) >= 0"}],"mark":{"type":"text","fontSize":10,"fontWeight":"bold","align":"left","baseline":"middle","color":"#333"},
   "encoding":{"x":{"datum":0,"type":"quantitative","scale":{"domain":[-2,-1,0,1,2,3,4,5,6,7,8,9,10,11,12,13,14,15,16,17,18,19,20,21,22],"range":[1,27,36,172,203,240,274,307,342,384,488,520,188,292,437,172,203,237,268,312,348,383,490,520,799],"nice":false,"zero":false},"axis":null},
   "y":{"field":"r","type":"quantitative","scale":{"domain":[-4.328,42.229],"reverse":true,"nice":false,"zero":false},"axis":null},"text":{"field":"label"}}},
  {"data":{"name":"C"},"transform":[{"filter":"indexof(['study','het','test'], datum.kind) >= 0"}],"mark":{"type":"text","fontSize":10,"align":"left","baseline":"middle"},
   "encoding":{"x":{"datum":0,"type":"quantitative","scale":{"domain":[-2,-1,0,1,2,3,4,5,6,7,8,9,10,11,12,13,14,15,16,17,18,19,20,21,22],"range":[1,27,36,172,203,240,274,307,342,384,488,520,188,292,437,172,203,237,268,312,348,383,490,520,799],"nice":false,"zero":false},"axis":null},
   "y":{"field":"r","type":"quantitative","scale":{"domain":[-4.328,42.229],"reverse":true,"nice":false,"zero":false},"axis":null},"text":{"field":"label"}}},
  {"data":{"name":"C"},"transform":[{"filter":"datum.kind==='study'"},{"fold":["m1","s1","n1","m2","s2","n2","w","ci","yr"],"as":["key","value"]},{"filter":"isValid(datum.value)"},{"lookup":"key","from":{"data":{"name":"cols"},"key":"key","fields":["c"]}}],
   "mark":{"type":"text","fontSize":10,"align":"right","baseline":"middle"},
   "encoding":{"x":{"field":"c","type":"quantitative","scale":{"domain":[-2,-1,0,1,2,3,4,5,6,7,8,9,10,11,12,13,14,15,16,17,18,19,20,21,22],"range":[1,27,36,172,203,240,274,307,342,384,488,520,188,292,437,172,203,237,268,312,348,383,490,520,799],"nice":false,"zero":false},"axis":null},
   "y":{"field":"r","type":"quantitative","scale":{"domain":[-4.328,42.229],"reverse":true,"nice":false,"zero":false},"axis":null},"text":{"field":"value"}}},
  {"data":{"name":"C"},"transform":[{"filter":"datum.kind==='sub' || datum.kind==='h2'"},{"fold":["m1","s1","n1","m2","s2","n2","w","ci","yr","mh1","sh1","nh1","mh2","sh2","nh2","wh","cih","yrh"],"as":["key","value"]},{"filter":"isValid(datum.value)"},{"lookup":"key","from":{"data":{"name":"cols"},"key":"key","fields":["c"]}}],
   "mark":{"type":"text","fontSize":10,"fontWeight":"bold","align":"right","baseline":"middle","color":"#333"},
   "encoding":{"x":{"field":"c","type":"quantitative","scale":{"domain":[-2,-1,0,1,2,3,4,5,6,7,8,9,10,11,12,13,14,15,16,17,18,19,20,21,22],"range":[1,27,36,172,203,240,274,307,342,384,488,520,188,292,437,172,203,237,268,312,348,383,490,520,799],"nice":false,"zero":false},"axis":null},
   "y":{"field":"r","type":"quantitative","scale":{"domain":[-4.328,42.229],"reverse":true,"nice":false,"zero":false},"axis":null},"text":{"field":"value"}}}
 ]}
]
}
